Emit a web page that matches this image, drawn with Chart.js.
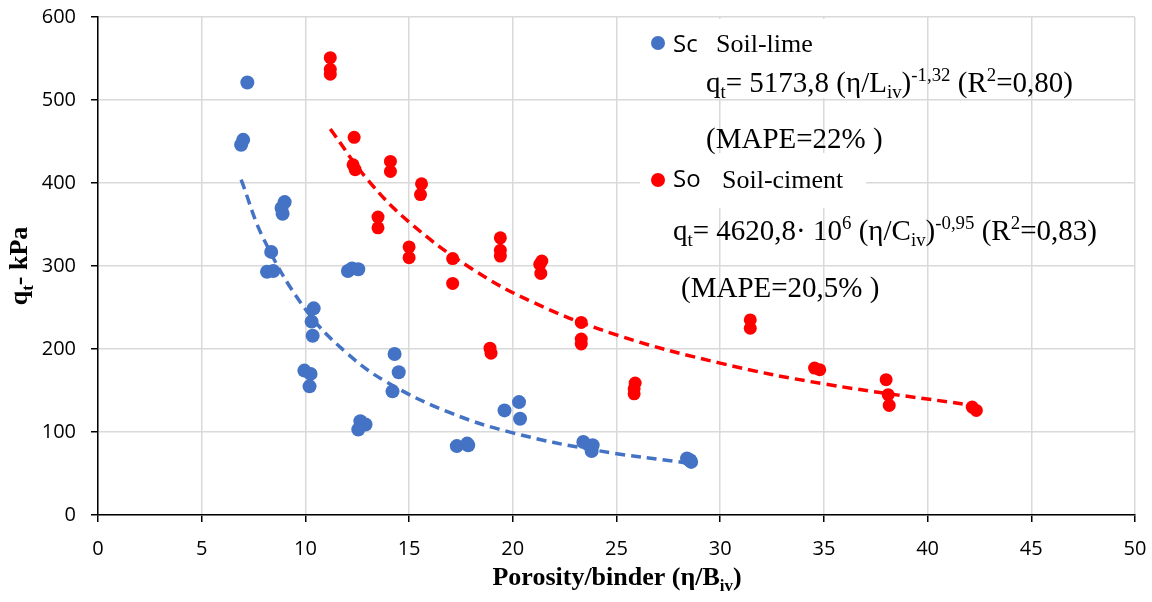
<!DOCTYPE html>
<html>
<head>
<meta charset="utf-8">
<script src="https://cdn.jsdelivr.net/npm/chart.js@4"></script>
<style>
  html, body { margin: 0; padding: 0; background: #fff; }
  #wrap { width: 1152px; height: 602px; }
</style>
</head>
<body>
<div id="wrap"><canvas id="myChart" width="1152" height="602"></canvas></div>
<script>
// soil-lime points (eta/Biv, qt)
var limeX = [7.2, 7.0, 6.9, 9.0, 8.85, 8.9, 8.35, 8.15, 8.45, 12.05, 12.25, 12.55, 10.4, 10.3, 10.35,
  9.95, 10.25, 10.2, 14.3, 14.5, 14.2, 12.65, 12.9, 12.55, 17.3, 17.8, 17.85, 20.3, 19.6, 20.35,
  23.4, 23.85, 23.8, 28.4, 28.55, 28.6];
var limeY = [521, 452, 446, 377, 370, 363, 317, 293, 294, 294, 297, 296, 249, 233, 216,
  174, 170, 155, 194, 172, 149, 113, 109, 103, 83, 86, 84, 136, 126, 116,
  88, 84, 77, 68, 66, 64];

// soil-ciment points
var cimX = [11.2, 11.2, 11.2, 12.35, 12.3, 12.4, 14.1, 14.1, 15.6, 15.55, 13.5, 13.5, 15.0, 15.0,
  17.1, 17.1, 19.4, 19.4, 19.4, 21.4, 21.3, 21.35, 23.3, 23.3, 23.3, 18.9, 18.95,
  25.9, 25.85, 25.85, 31.45, 31.45, 34.55, 34.8, 38.0, 38.1, 38.15, 42.15, 42.35];
var cimY = [551, 537, 531, 455, 422, 416, 426, 414, 399, 386, 359, 346, 323, 310,
  309, 279, 334, 319, 312, 306, 302, 291, 232, 212, 206, 201, 195,
  159, 152, 146, 235, 225, 177, 175, 163, 145, 132, 130, 126];

// trend lines
var limeTrendX = [6.9, 8, 10, 12, 14, 17, 20, 24, 28.6];
var limeTrendY = [404, 332, 248, 195, 159, 123, 99, 78, 62];
var cimTrendX = [11.2, 13, 15, 18, 21, 25, 30, 35, 42.2];
var cimTrendY = [465, 404, 353, 297, 256, 217, 183, 158, 132];

var xTicks = [0, 5, 10, 15, 20, 25, 30, 35, 40, 45, 50];
var yTicks = [0, 100, 200, 300, 400, 500, 600];

var BLUE = '#4472C4';
var RED = '#FF0000';

function pts(xs, ys) {
  return xs.map(function (x, i) { return { x: x, y: ys[i] }; });
}

// draw a line of text with sub/superscripts
function drawRuns(ctx, x, y, runs, size, bold) {
  var w = bold ? 'bold ' : '';
  runs.forEach(function (r) {
    var s = r[1] ? size * 0.65 : size;
    var dy = r[1] === 'sub' ? size * 0.22 : (r[1] === 'sup' ? -size * 0.38 : 0);
    ctx.font = w + s + 'px "Liberation Serif"';
    ctx.fillText(r[0], x, y + dy);
    x += ctx.measureText(r[0]).width;
  });
  return x;
}
function runsWidth(ctx, runs, size, bold) {
  var w = 0, b = bold ? 'bold ' : '';
  runs.forEach(function (r) {
    var s = r[1] ? size * 0.65 : size;
    ctx.font = b + s + 'px "Liberation Serif"';
    w += ctx.measureText(r[0]).width;
  });
  return w;
}

var boxes = {
  id: 'boxes',
  beforeDatasetsDraw: function (chart) {
    var ctx = chart.ctx;
    ctx.save();
    ctx.fillStyle = '#fff';
    ctx.fillRect(640, 19, 226, 79);
    ctx.fillRect(640, 153, 226, 55);
    ctx.restore();
  }
};

var texts = {
  id: 'texts',
  afterDraw: function (chart) {
    var ctx = chart.ctx;
    ctx.save();
    ctx.fillStyle = '#000';
    ctx.textBaseline = 'alphabetic';
    ctx.textAlign = 'left';

    // legend markers
    ctx.fillStyle = BLUE;
    ctx.beginPath(); ctx.arc(658, 43, 7, 0, Math.PI * 2); ctx.fill();
    ctx.fillStyle = RED;
    ctx.beginPath(); ctx.arc(658, 180, 7, 0, Math.PI * 2); ctx.fill();
    ctx.fillStyle = '#000';
    ctx.font = '24px "Open Sans"';
    ctx.fillText('Sc', 673, 52);
    ctx.fillText('So', 673, 187);

    ctx.font = '26px "Liberation Serif"';
    ctx.fillText('Soil-lime', 716, 52);
    ctx.fillText('Soil-ciment', 722, 188);

    drawRuns(ctx, 706, 92, [['q'], ['t', 'sub'], ['= 5173,8 (\u03b7/L'], ['iv', 'sub'], [')'], ['-1,32', 'sup'], [' (R'], ['2', 'sup'], ['=0,80)']], 29);
    drawRuns(ctx, 706, 148, [['(MAPE=22% )']], 29);
    drawRuns(ctx, 673, 240, [['q'], ['t', 'sub'], ['= 4620,8\u00b7 10'], ['6', 'sup'], [' (\u03b7/C'], ['iv', 'sub'], [')'], ['-0,95', 'sup'], [' (R'], ['2', 'sup'], ['=0,83)']], 29);
    drawRuns(ctx, 681, 297, [['(MAPE=20,5% )']], 29);

    // axis titles
    var xr = [['Porosity/binder (\u03b7/B'], ['iv', 'sub'], [')']];
    var xw = runsWidth(ctx, xr, 26, true);
    drawRuns(ctx, 617 - xw / 2, 585, xr, 26, true);

    ctx.translate(27, 266);
    ctx.rotate(-Math.PI / 2);
    var yr = [['q'], ['t', 'sub'], ['- kPa']];
    var yw = runsWidth(ctx, yr, 26, true);
    drawRuns(ctx, -yw / 2, 0, yr, 26, true);
    ctx.restore();
  }
};

var ctx = document.getElementById('myChart').getContext('2d');

var myChart = new Chart(ctx, {
  type: 'scatter',
  data: {
    datasets: [
      {
        label: 'Soil-lime trend',
        data: pts(limeTrendX, limeTrendY),
        showLine: true,
        borderColor: BLUE,
        borderWidth: 3.5,
        borderDash: [10, 6],
        pointRadius: 0,
        tension: 0.4,
        order: 0
      },
      {
        label: 'Soil-ciment trend',
        data: pts(cimTrendX, cimTrendY),
        showLine: true,
        borderColor: RED,
        borderWidth: 3.5,
        borderDash: [10, 6],
        pointRadius: 0,
        tension: 0.4,
        order: 0
      },
      {
        label: 'Soil-lime',
        data: pts(limeX, limeY),
        backgroundColor: BLUE,
        borderColor: BLUE,
        borderWidth: 0,
        pointRadius: 7,
        order: 1
      },
      {
        label: 'Soil-ciment',
        data: pts(cimX, cimY),
        backgroundColor: RED,
        borderColor: RED,
        borderWidth: 0,
        pointRadius: 6.5,
        order: 1
      }
    ]
  },
  options: {
    responsive: false,
    animation: false,
    layout: { padding: { top: 17, right: 17, left: 0, bottom: 0 } },
    plugins: {
      legend: { display: false },
      tooltip: { enabled: false }
    },
    scales: {
      x: {
        type: 'linear',
        min: 0,
        max: 50,
        afterBuildTicks: function (s) { s.ticks = xTicks.map(function (v) { return { value: v }; }); },
        afterFit: function (s) { s.height = 87; s.paddingLeft = 0; s.paddingRight = 0; },
        ticks: { color: '#000', padding: 15, font: { family: 'Open Sans', size: 20 } },
        grid: { color: '#d9d9d9', lineWidth: 1.5, tickColor: '#000', tickLength: 7 },
        border: { color: '#000', width: 1.5 }
      },
      y: {
        min: 0,
        max: 600,
        afterBuildTicks: function (s) { s.ticks = yTicks.map(function (v) { return { value: v }; }); },
        afterFit: function (s) { s.width = 98; s.paddingTop = 0; s.paddingBottom = 0; },
        ticks: { color: '#000', padding: 15, font: { family: 'Open Sans', size: 20 } },
        grid: { color: '#d9d9d9', lineWidth: 1.5, tickColor: '#000', tickLength: 7 },
        border: { color: '#000', width: 1.5 }
      }
    }
  },
  plugins: [boxes, texts]
});
</script>
</body>
</html>
